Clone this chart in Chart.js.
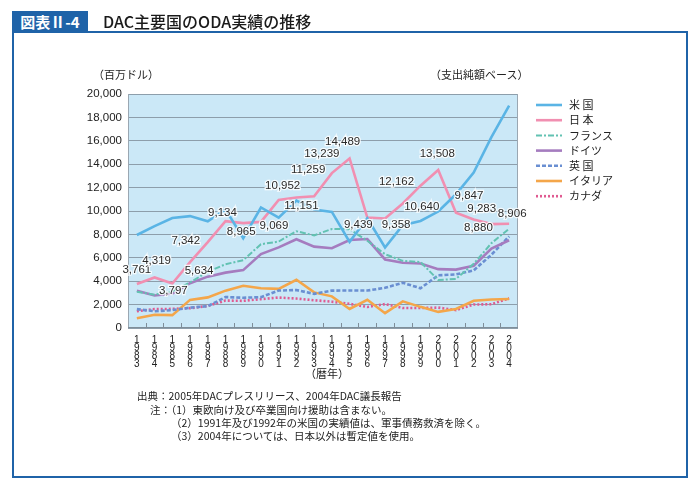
<!DOCTYPE html>
<html>
<head>
<meta charset="utf-8">
<script src="https://cdn.jsdelivr.net/npm/chart.js@4.4.1/dist/chart.umd.min.js"></script>
<style>
  html, body { margin:0; padding:0; background:#fff; }
  #wrap { position:relative; width:700px; height:491px; overflow:hidden; font-family:"Noto Sans CJK JP","Liberation Sans",sans-serif; color:#222; }
  #c { position:absolute; left:0; top:0; }
  .abs { position:absolute; white-space:nowrap; }
  #hdrbox { left:12px; top:11px; width:76px; height:21px; background:#1f63a8; color:#fff; font-size:15px; font-weight:bold; line-height:21px; text-align:center; }
  #hdrline { left:12px; top:31px; width:676px; height:2px; background:#1f63a8; }
  #frameL { left:12px; top:31px; width:1.5px; height:446px; background:#1f63a8; }
  #frameR { left:686px; top:31px; width:1.5px; height:446px; background:#1f63a8; }
  #frameB { left:12px; top:476px; width:676px; height:1.5px; background:#1f63a8; }
  #title { left:103px; top:10px; font-size:16px; font-weight:500; line-height:22px; color:#1a1a1a; }
  .note { font-size:10.5px; line-height:13px; color:#222; }
</style>
</head>
<body>
<div id="wrap">
  <canvas id="c" width="700" height="491"></canvas>
  <div id="hdrbox" class="abs">図表Ⅱ-4</div>
  <div id="hdrline" class="abs"></div>
  <div id="frameL" class="abs"></div>
  <div id="frameR" class="abs"></div>
  <div id="frameB" class="abs"></div>
  <div id="title" class="abs">DAC主要国のODA実績の推移</div>
  <div class="abs note" style="left:93px;top:68px;font-size:11px;">（百万ドル）</div>
  <div class="abs note" style="left:430px;top:68px;font-size:11px;">（支出純額ベース）</div>
  <div class="abs note" style="left:305px;top:367px;font-size:11px;">（暦年）</div>
  <div class="abs note" style="left:137px;top:389px;">出典：2005年DACプレスリリース、2004年DAC議長報告</div>
  <div class="abs note" style="left:150px;top:403px;">注：（1）東欧向け及び卒業国向け援助は含まない。</div>
  <div class="abs note" style="left:171px;top:416px;">（2）1991年及び1992年の米国の実績値は、軍事債務救済を除く。</div>
  <div class="abs note" style="left:171px;top:429px;">（3）2004年については、日本以外は暫定値を使用。</div>
</div>
<script>
// ---- data ----
const years = ['1983','1984','1985','1986','1987','1988','1989','1990','1991','1992','1993','1994','1995','1996','1997','1998','1999','2000','2001','2002','2003','2004'];
const seriesNames = ['米 国','日 本','フランス','ドイツ','英 国','イタリア','カナダ'];
const usData      = [7950, 8711, 9403, 9564, 9115, 10141, 7676, 10300, 9430, 10900, 10123, 9927, 7367, 9377, 6878, 8786, 9145, 9955, 11429, 13290, 16320, 19000];
const japanData   = [3761, 4319, 3797, 5634, 7342, 9134, 8965, 9069, 10952, 11151, 11259, 13239, 14489, 9439, 9358, 10640, 12162, 13508, 9847, 9283, 8880, 8906];
const franceData  = [3100, 2850, 3100, 3900, 4800, 5450, 5800, 7163, 7386, 8270, 7915, 8466, 8443, 7451, 6307, 5742, 5639, 4105, 4198, 5486, 7253, 8475];
const germanyData = [3176, 2782, 2942, 3832, 4391, 4731, 4949, 6320, 6890, 7583, 6954, 6818, 7524, 7601, 5857, 5581, 5515, 5030, 4990, 5324, 6784, 7497];
const ukData      = [1610, 1430, 1530, 1737, 1865, 2645, 2587, 2638, 3201, 3243, 2920, 3197, 3202, 3199, 3433, 3864, 3401, 4501, 4579, 4924, 6262, 7836];
const italyData   = [827, 1133, 1098, 2403, 2615, 3193, 3613, 3395, 3347, 4122, 3043, 2705, 1623, 2416, 1266, 2278, 1806, 1376, 1627, 2332, 2433, 2484];
const canadaData  = [1429, 1625, 1631, 1695, 1885, 2347, 2320, 2470, 2604, 2515, 2373, 2250, 2067, 1795, 2045, 1707, 1706, 1744, 1533, 2006, 2031, 2537];
const yTicks = [0, 2000, 4000, 6000, 8000, 10000, 12000, 14000, 16000, 18000, 20000];

// ---- label placement (style only) ----
const japanLabelOffsets = [[0,-14],[2,-17],[1,7],[9,9],[-22,-1],[-3,-8],[-2,9],[13,4],[4,-14],[5,8],[-6,-26],[-10,-19],[-7,-17],[-9,7],[11,6],[19,3],[-24,-4],[-1,-16],[13,-17],[8,-11],[-13,4],[3,-10]];

const styles = [
  {color:'#5ab4e5', dash:[], width:2.6},
  {color:'#f18fb1', dash:[], width:2.6},
  {color:'#62c2b2', dash:[6,2,2,2], width:2},
  {color:'#a57cbf', dash:[], width:2.6},
  {color:'#6a8fd2', dash:[4,2], width:2.6},
  {color:'#f4a64a', dash:[], width:2.6},
  {color:'#e05a91', dash:[2,2], width:2.6}
];
const allData = [usData, japanData, franceData, germanyData, ukData, italyData, canadaData];

const datasets = allData.map((d,i)=>({
  label: seriesNames[i], data: d,
  borderColor: styles[i].color, borderDash: styles[i].dash, borderWidth: styles[i].width,
  pointRadius:0, tension:0, fill:false
}));

const bgPlugin = {
  id:'bg',
  beforeDraw(chart){
    const {ctx, chartArea:a} = chart;
    ctx.save(); ctx.fillStyle='#cbe8f7'; ctx.fillRect(a.left,a.top,a.right-a.left,a.bottom-a.top); ctx.restore();
  },
  afterDatasetsDraw(chart){
    const {ctx, chartArea:a, scales} = chart;
    const xs = scales.x;
    ctx.save();
    ctx.strokeStyle='#9aa7b2'; ctx.lineWidth=1;
    ctx.beginPath(); ctx.moveTo(a.left+0.5,a.top); ctx.lineTo(a.left+0.5,a.bottom); ctx.stroke();
    ctx.beginPath(); ctx.moveTo(a.right-0.5,a.top); ctx.lineTo(a.right-0.5,a.bottom); ctx.stroke();
    ctx.strokeStyle='#7f8e99';
    ctx.beginPath(); ctx.moveTo(a.left,a.bottom-0.5); ctx.lineTo(a.right,a.bottom-0.5); ctx.stroke();
    const step = xs.getPixelForValue(1)-xs.getPixelForValue(0);
    for(let i=1;i<years.length;i++){
      const x = Math.round(xs.getPixelForValue(i)-step/2)+0.5;
      ctx.beginPath(); ctx.moveTo(x,a.bottom-5); ctx.lineTo(x,a.bottom); ctx.stroke();
    }
    const meta = chart.getDatasetMeta(1);
    ctx.font='11.5px "Liberation Sans", Arial, sans-serif';
    ctx.textAlign='center'; ctx.textBaseline='middle';
    meta.data.forEach((pt,i)=>{
      const o = japanLabelOffsets[i];
      const txt = japanData[i].toLocaleString('en-US');
      const x = pt.x+o[0], y = pt.y+o[1];
      ctx.lineWidth=2.5; ctx.strokeStyle='rgba(255,255,255,0.85)'; ctx.strokeText(txt,x,y);
      ctx.fillStyle='#2a2a2a'; ctx.fillText(txt,x,y);
    });
    ctx.restore();
  },
  afterDraw(chart){
    const {ctx} = chart;
    ctx.save();
    ctx.font='11px "Noto Sans CJK JP", sans-serif';
    ctx.textBaseline='middle'; ctx.textAlign='left';
    chart.data.datasets.forEach((ds,i)=>{
      const y = 105 + i*15.2;
      ctx.strokeStyle=ds.borderColor; ctx.lineWidth=ds.borderWidth; ctx.setLineDash(ds.borderDash);
      ctx.beginPath(); ctx.moveTo(536,y); ctx.lineTo(562,y); ctx.stroke();
      ctx.setLineDash([]);
      ctx.fillStyle='#222'; ctx.fillText(ds.label,569,y);
    });
    ctx.restore();
  }
};

new Chart(document.getElementById('c'), {
  type:'line',
  data:{ labels: years, datasets },
  options:{
    responsive:false, animation:false, devicePixelRatio:1,
    layout:{ padding:{ left:0, right:182, top:94, bottom:118 } },
    plugins:{ legend:{display:false}, tooltip:{enabled:false} },
    scales:{
      x:{
        offset:true,
        grid:{ display:false, drawTicks:false },
        border:{ display:false },
        ticks:{
          autoSkip:false, maxRotation:0, minRotation:0, padding:8,
          color:'#222',
          font:{ family:'"Liberation Sans", Arial, sans-serif', size:10, lineHeight:0.8 },
          callback:(v,i)=>years[i].split('')
        },
        afterFit(s){ s.height = 45; }
      },
      y:{
        min:0, max:20000,
        afterBuildTicks(s){ s.ticks = yTicks.map(v=>({value:v})); },
        grid:{ color:'#8d9eab', lineWidth:1, drawTicks:false },
        border:{ display:false },
        ticks:{
          padding:6, color:'#222',
          font:{ family:'"Liberation Sans", Arial, sans-serif', size:11.5 },
          callback:(v)=>Number(v).toLocaleString('en-US')
        },
        afterFit(s){ s.width = 128; }
      }
    }
  },
  plugins:[bgPlugin]
});
</script>
</body>
</html>
